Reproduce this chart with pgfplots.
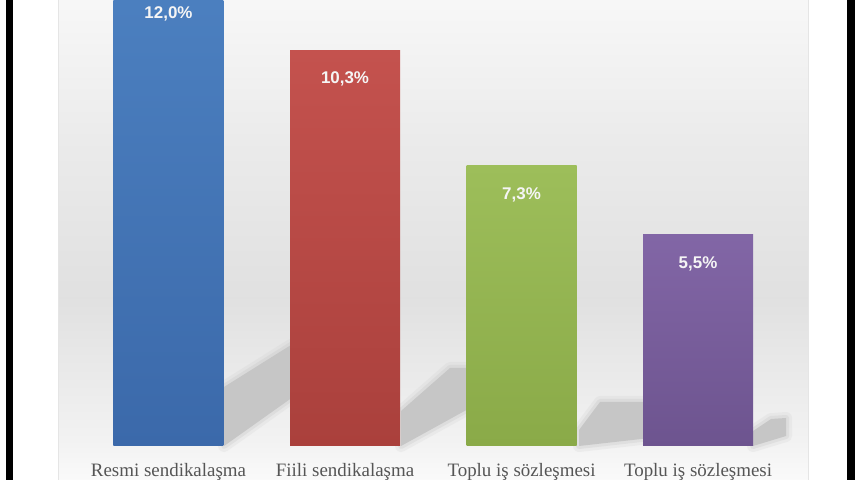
\documentclass[border=0pt]{standalone}
\usepackage{pgfplots}
\pgfplotsset{compat=1.18}
\usepackage{fontspec}
\setmainfont{Liberation Serif}
\setsansfont{Liberation Sans}

\definecolor{blueT}{HTML}{4C80C0}
\definecolor{blueB}{HTML}{3B69AA}
\definecolor{redT}{HTML}{C4524E}
\definecolor{redB}{HTML}{AA403C}
\definecolor{greenT}{HTML}{9DBE5A}
\definecolor{greenB}{HTML}{8AAA48}
\definecolor{purpT}{HTML}{8266A6}
\definecolor{purpB}{HTML}{6D548F}
\definecolor{labelgray}{HTML}{555555}
\definecolor{shadowgray}{HTML}{C6C6C6}

% panel background, light at top and at the floor, grey in between
\pgfdeclareverticalshading{panel}{100bp}{%
  color(0bp)=(white!98!black); color(25bp)=(white!98!black);
  color(29bp)=(white!95!black); color(44bp)=(white!88!black);
  color(60bp)=(white!92!black); color(75bp)=(white!97!black);
  color(100bp)=(white!97!black)}

% one soft bar shadow: faint wide strokes under a solid core
\newcommand\barshadow[1]{%
  \draw[shadowgray, opacity=0.18, line join=round, line width=12bp] #1;
  \draw[shadowgray, opacity=0.30, line join=round, line width=6bp] #1;
  \fill[shadowgray] #1;}

\begin{document}
\begin{tikzpicture}
\useasboundingbox (0,0) rectangle (860bp,480bp);
\begin{scope}[x=1bp,y=1bp]
\fill[white] (0,0) rectangle (860,480);
\fill[black] (6,0) rectangle (13,480);
\fill[black] (847,0) rectangle (855,480);
\shade[shading=panel] (58,0) rectangle (808,480);
\draw[white!90!black, line width=0.8bp] (58,0) -- (58,480) (808,0) -- (808,480);
% shadows behind the bars (pixel coordinates, y downwards)
\begin{scope}[shift={(0,480)}, yscale=-1]
  \barshadow{(224,446) -- (224,387) -- (291,345) -- (300,343) -- (300,392) -- cycle}
  \barshadow{(401,446) -- (401,411) -- (450,368) -- (470,368) -- (470,408) -- cycle}
  \barshadow{(579,446) -- (579,430) -- (600,402) -- (650,402) -- (650,438) -- cycle}
  \barshadow{(753,446) -- (753,431) -- (771,419) -- (786,418) -- (786,436) -- cycle}
\end{scope}
\end{scope}

\begin{axis}[
  at={(58bp,34bp)}, anchor=south west,
  scale only axis, width=750bp, height=446bp,
  xmin=-0.626, xmax=3.623, ymin=0, ymax=11.61,
  clip=false,
  axis line style={draw=none}, tick style={draw=none},
  ytick=\empty,
  xtick={0,1,2,3},
  xticklabels={Resmi sendikalaşma, Fiili sendikalaşma, Toplu iş sözleşmesi, Toplu iş sözleşmesi},
  xticklabel style={anchor=base, inner sep=0pt, yshift=-26bp, font=\fontsize{19}{19}\selectfont, text=labelgray},
  ybar, bar width=110bp, bar shift=0pt,
  nodes near coords={\pgfmathprintnumber[use comma,fixed,fixed zerofill,precision=1,assume math mode=true]{\pgfplotspointmeta}\%},
  every node near coord/.append style={anchor=center, yshift=-29bp,
    font=\sffamily\bfseries\fontsize{17}{17}\selectfont, text=white!96!black},
]
\addplot[draw=none, top color=blueT, bottom color=blueB] coordinates {(0,12.0)};
\addplot[draw=none, top color=redT, bottom color=redB] coordinates {(1,10.3)};
\addplot[draw=none, top color=greenT, bottom color=greenB] coordinates {(2,7.3)};
\addplot[draw=none, top color=purpT, bottom color=purpB] coordinates {(3,5.5)};
\end{axis}
\end{tikzpicture}
\end{document}
